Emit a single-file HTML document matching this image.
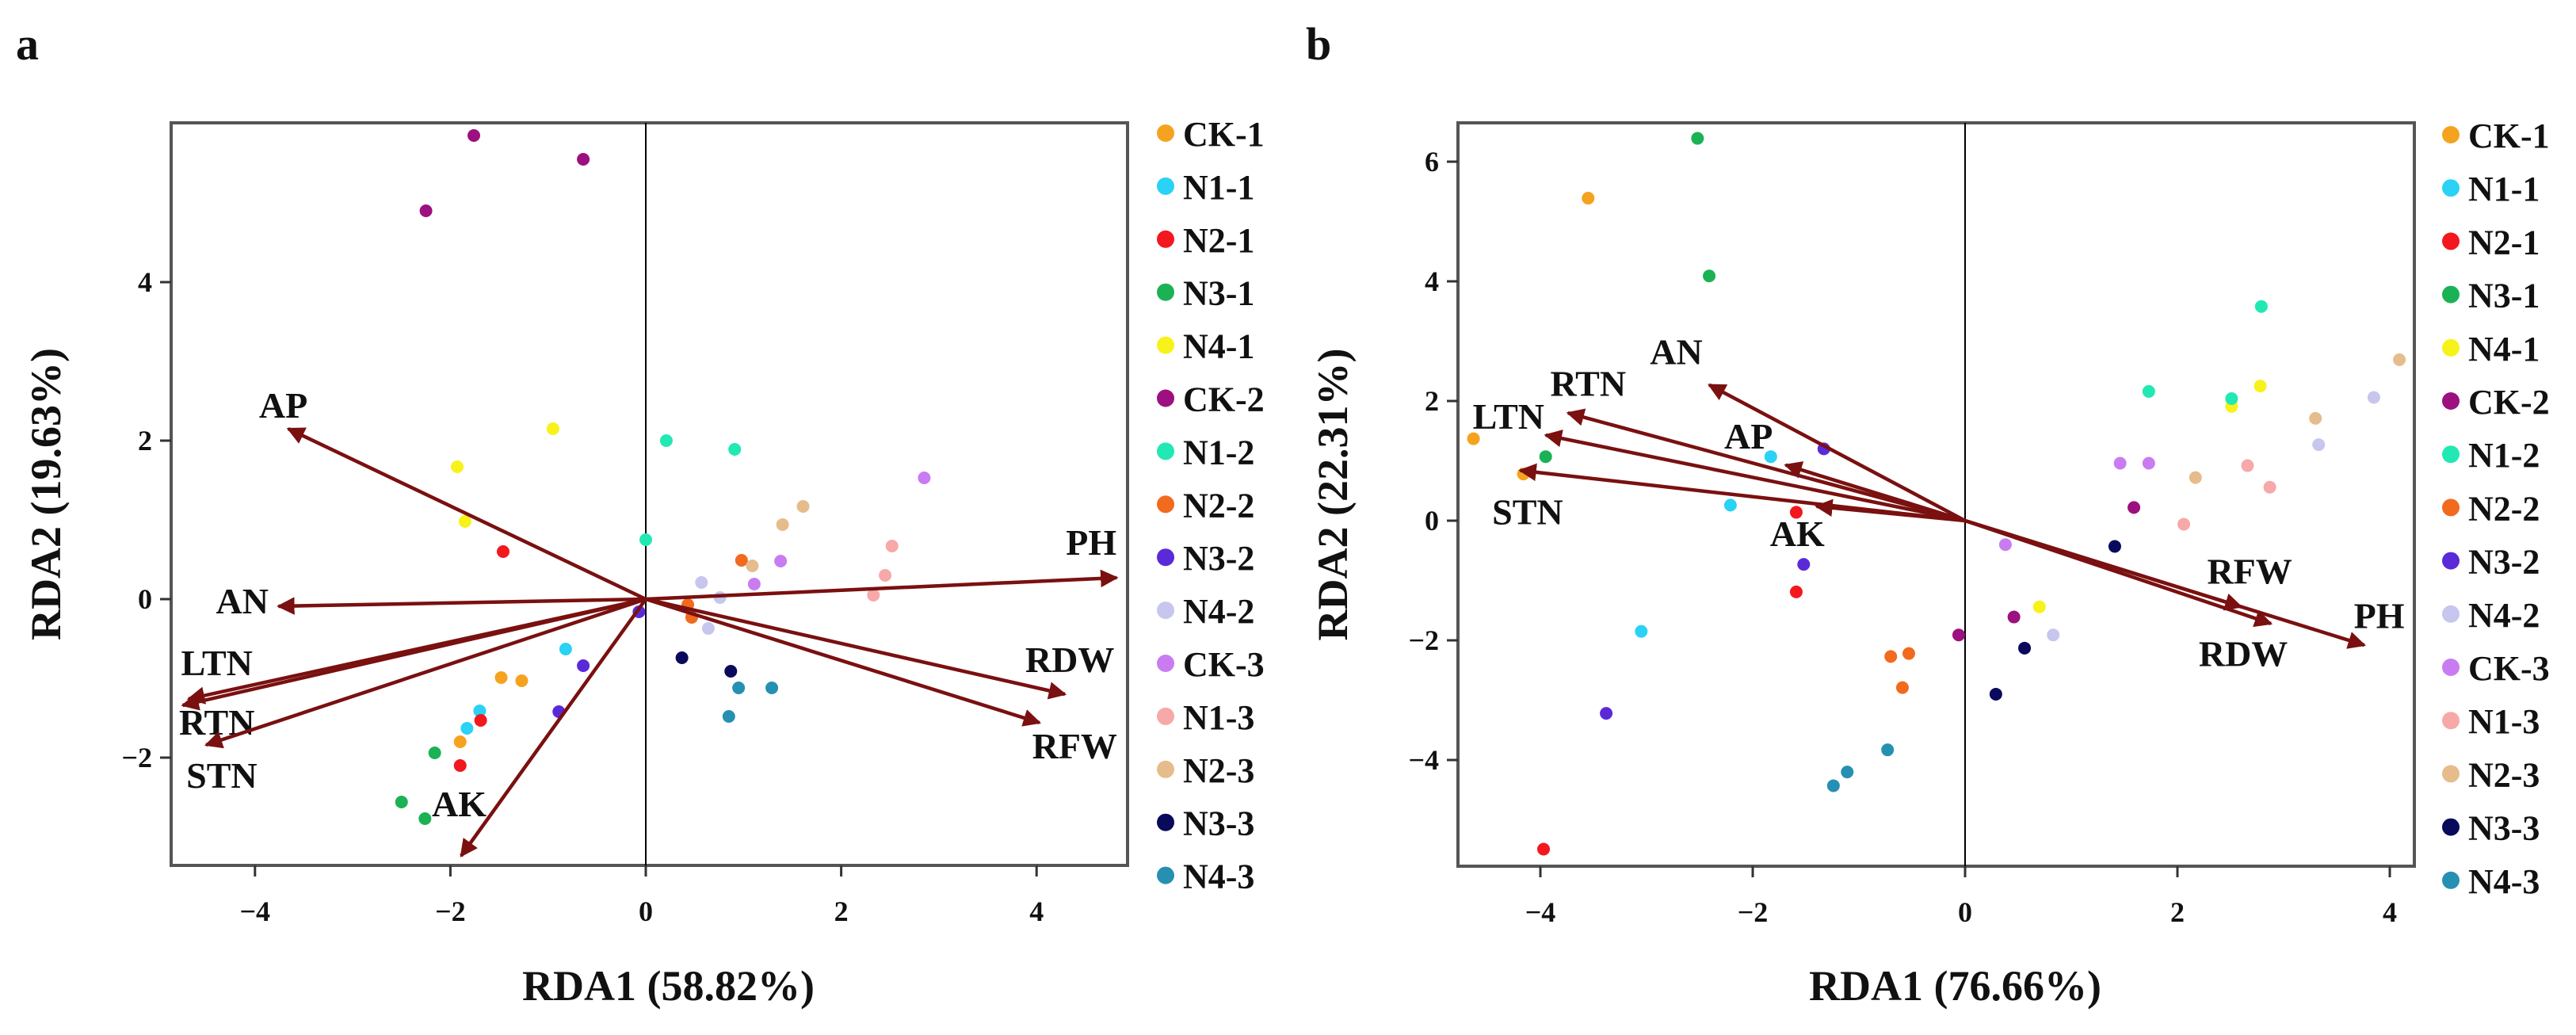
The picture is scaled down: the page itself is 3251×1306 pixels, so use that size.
<!DOCTYPE html>
<html><head><meta charset="utf-8"><style>
html,body{margin:0;padding:0;background:#fff;}
svg{display:block;font-family:"Liberation Serif",serif;font-weight:bold;}
</style></head><body>
<svg id="fig" width="3251" height="1306" viewBox="0 0 3251 1306" xmlns="http://www.w3.org/2000/svg">
<defs>
<marker id="ah" viewBox="0 0 10 10" refX="9" refY="5" markerWidth="5" markerHeight="5" orient="auto" markerUnits="strokeWidth"><path d="M0,0 L10,5 L0,10 z" fill="#7a1010"/></marker>
</defs>
</svg>
<script>
const groups = ["CK-1","N1-1","N2-1","N3-1","N4-1","CK-2","N1-2","N2-2","N3-2","N4-2","CK-3","N1-3","N2-3","N3-3","N4-3"];
const groupColors = ["#f5a31e","#2ad2f5","#f2181e","#1ab255","#f7f21a","#9c1080","#22e8b4","#f26a1e","#5a2ad8","#c6c6ee","#c97cf2","#f7a8a8","#e6bc8c","#0a0a5c","#2690b2"];

// Panel a sample scores: [group index, RDA1, RDA2]
const ptsA_g = [0,0,0, 1,1,1, 2,2,2, 3,3,3, 4,4,4, 5,5,5, 6,6,6, 7,7,7, 8,8,8, 9,9,9, 10,10,10, 11,11,11, 12,12,12, 13,13, 14,14,14];
const ptsA_x = [-1.48,-1.27,-1.90, -0.82,-1.70,-1.83, -1.46,-1.69,-1.90, -2.16,-2.50,-2.26, -0.95,-1.93,-1.85, -1.76,-0.64,-2.25, 0.21,0.91,0.00, 0.98,0.43,0.47, -0.64,-0.89,-0.07, 0.57,0.76,0.64, 2.85,1.38,1.11, 2.52,2.45,2.33, 1.61,1.40,1.09, 0.37,0.87, 0.95,1.29,0.85];
const ptsA_y = [-0.99,-1.03,-1.80, -0.63,-1.41,-1.63, 0.60,-1.53,-2.10, -1.94,-2.56,-2.77, 2.15,1.67,0.98, 5.85,5.55,4.90, 2.00,1.89,0.75, 0.49,-0.07,-0.23, -0.84,-1.42,-0.16, 0.21,0.02,-0.37, 1.53,0.48,0.19, 0.67,0.30,0.05, 1.17,0.94,0.42, -0.74,-0.91, -1.12,-1.12,-1.48];
const vecA_names = ["AP","AN","LTN","RTN","STN","AK","PH","RDW","RFW"];
const vecA_x = [-3.66,-3.76,-4.68,-4.74,-4.50,-1.89,4.82,4.29,4.03];
const vecA_y = [2.15,-0.09,-1.26,-1.34,-1.84,-3.24,0.27,-1.20,-1.56];
const labA_x = [-3.71,-4.13,-4.39,-4.39,-4.34,-1.91,4.56,4.34,4.39];
const labA_y = [2.45,-0.02,-0.80,-1.55,-2.22,-2.58,0.72,-0.76,-1.85];
const ticksA_x = [-4,-2,0,2,4];
const ticksA_y = [-2,0,2,4];

// Panel b
const ptsB_g = [0,0,0, 1,1,1, 2,2,2, 3,3,3, 4,4,4, 5,5,5, 6,6,6, 7,7,7, 8,8,8, 9,9,9, 10,10,10, 11,11,11, 12,12,12, 13,13,13, 14,14,14];
const ptsB_x = [-3.55,-4.63,-4.16, -1.83,-2.21,-3.05, -1.59,-1.59,-3.97, -2.52,-2.41,-3.95, 2.78,2.51,0.70, 1.59,0.46,-0.06, 2.79,1.73,2.51, -0.70,-0.53,-0.59, -1.33,-1.52,-3.38, 3.85,3.33,0.83, 1.46,1.73,0.38, 2.66,2.87,2.06, 4.09,3.30,2.17, 1.41,0.56,0.29, -0.73,-1.11,-1.24];
const ptsB_y = [5.39,1.37,0.78, 1.07,0.26,-1.85, 0.14,-1.19,-5.49, 6.39,4.09,1.07, 2.25,1.91,-1.44, 0.22,-1.61,-1.91, 3.58,2.16,2.04, -2.27,-2.22,-2.79, 1.20,-0.73,-3.22, 2.06,1.27,-1.91, 0.96,0.96,-0.40, 0.92,0.56,-0.06, 2.69,1.71,0.72, -0.43,-2.13,-2.90, -3.83,-4.20,-4.43];
const vecB_names = ["AN","RTN","LTN","STN","AP","AK","RFW","RDW","PH"];
const vecB_x = [-2.41,-3.74,-3.95,-4.19,-1.69,-1.40,2.60,2.88,3.76];
const vecB_y = [2.27,1.80,1.43,0.84,0.93,0.24,-1.44,-1.72,-2.08];
const labB_x = [-2.72,-3.55,-4.30,-4.12,-2.04,-1.58,2.68,2.62,3.90];
const labB_y = [2.83,2.30,1.75,0.15,1.42,-0.21,-0.84,-2.22,-1.58];
const ticksB_x = [-4,-2,0,2,4];
const ticksB_y = [-4,-2,0,2,4,6];

const NS="http://www.w3.org/2000/svg";
const svg=document.getElementById('fig');
function mk(tag,attrs,parent){const e=document.createElementNS(NS,tag);for(const k in attrs)e.setAttribute(k,attrs[k]);(parent||svg).appendChild(e);return e;}

function panel(cfg){
  const g=mk('g',{});
  
  
  const X=v=>cfg.x0+v*cfg.sx, Y=v=>cfg.y0-v*cfg.sy;
  const pl=mk('text',{x:cfg.letterX,y:75,'font-size':58,fill:'#111'},g);pl.textContent=cfg.id;
  
  
  const box=mk('rect',{x:cfg.L,y:cfg.T,width:cfg.R-cfg.L,height:cfg.B-cfg.T,fill:'none',stroke:'#555',"stroke-width":4},g);
  
  
  const zl=mk('line',{x1:X(0),x2:X(0),y1:cfg.T,y2:cfg.B,stroke:'#000','stroke-width':2},g);
  
  
  cfg.tx.forEach(t=>{
    const tk=mk('line',{x1:X(t),x2:X(t),y1:cfg.B,y2:cfg.B+14,stroke:'#333','stroke-width':3},g);
    
    
    const tl=mk('text',{x:X(t),y:cfg.B+70,'font-size':36,'text-anchor':'middle',fill:'#111'},g);
    tl.textContent=t<0?'\u2212'+(-t):String(t);
    
    
  });
  cfg.ty.forEach(t=>{
    const tk=mk('line',{x1:cfg.L-14,x2:cfg.L,y1:Y(t),y2:Y(t),stroke:'#333','stroke-width':3},g);
    
    
    const tl=mk('text',{x:cfg.L-24,y:Y(t)+12,'font-size':36,'text-anchor':'end',fill:'#111'},g);
    tl.textContent=t<0?'\u2212'+(-t):String(t);
    
    
  });
  cfg.px.forEach((v,i)=>{
    const c=mk('circle',{cx:X(v),cy:Y(cfg.py[i]),r:8,fill:groupColors[cfg.pg[i]]},g);
    
    
  });
  cfg.vn.forEach((n,i)=>{
    const l=mk('line',{x1:X(0),y1:Y(0),x2:X(cfg.vx[i]),y2:Y(cfg.vy[i]),stroke:'#7a1010','stroke-width':4.5,'marker-end':'url(#ah)'},g);
    
    
    const t=mk('text',{x:X(cfg.lx[i]),y:Y(cfg.ly[i])+16,'font-size':46,'text-anchor':'middle',fill:'#111'},g);
    t.textContent=n;
    
    
  });
  const xt=mk('text',{x:(cfg.L+cfg.R)/2+24,y:1262,'font-size':54,'text-anchor':'middle',fill:'#111'},g);
  xt.textContent=cfg.xTitle;
  
  
  const yt=mk('text',{x:0,y:0,'font-size':54,'text-anchor':'middle',fill:'#111',transform:`translate(${cfg.L-140},${(cfg.T+cfg.B)/2}) rotate(-90)`},g);
  yt.textContent=cfg.yTitle;
  
  
  groups.forEach((n,i)=>{
    const y=cfg.legY+i*cfg.legStep;
    const lg=mk('g',{},g);
    
    
    mk('circle',{cx:cfg.legX,cy:y,r:11,fill:groupColors[i]},lg);
    const t=mk('text',{x:cfg.legX+22,y:y+16,'font-size':44,fill:'#111'},lg);
    t.textContent=n;
  });
}
panel({id:'a',letterX:20,L:216,R:1423,T:155,B:1092,x0:815,sx:123.3,y0:756,sy:100,
  tx:ticksA_x,ty:ticksA_y,pg:ptsA_g,px:ptsA_x,py:ptsA_y,vn:vecA_names,vx:vecA_x,vy:vecA_y,lx:labA_x,ly:labA_y,
  xTitle:'RDA1 (58.82%)',yTitle:'RDA2 (19.63%)',legX:1471,legY:168,legStep:66.9});
panel({id:'b',letterX:1648,L:1840,R:3047,T:155,B:1093,x0:2480,sx:134,y0:657,sy:75.5,
  tx:ticksB_x,ty:ticksB_y,pg:ptsB_g,px:ptsB_x,py:ptsB_y,vn:vecB_names,vx:vecB_x,vy:vecB_y,lx:labB_x,ly:labB_y,
  xTitle:'RDA1 (76.66%)',yTitle:'RDA2 (22.31%)',legX:3093,legY:170,legStep:67.2});
</script>
</body></html>
